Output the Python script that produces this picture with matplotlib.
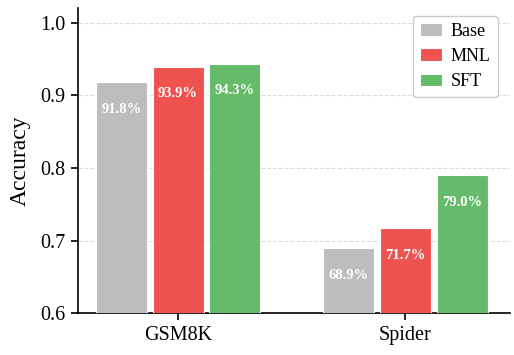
import numpy as np
import matplotlib.pyplot as plt

plt.rcParams['font.family'] = ['Liberation Serif', 'DejaVu Serif']

tasks = ['GSM8K', 'Spider']
methods = ['Base', 'MNL', 'SFT']
base_acc = [0.918, 0.689]
mnl_acc = [0.939, 0.717]
sft_acc = [0.943, 0.790]
colors = ['#bdbdbd', '#ef5350', '#66bb6a']

fig = plt.figure(figsize=(5.14, 3.55), dpi=100)
ax = fig.add_axes([0.152, 0.118, 0.84, 0.859])

x = np.arange(len(tasks))
slot = 0.25
w = 0.225
series = [base_acc, mnl_acc, sft_acc]
for k, (name, vals) in enumerate(zip(methods, series)):
    pos = x + (k - 1) * slot
    ax.bar(pos, vals, w, color=colors[k], edgecolor='white', linewidth=0.8,
           label=name, zorder=3)
    for p, v in zip(pos, vals):
        ax.text(p, v - 0.037, '%.1f%%' % (v * 100), ha='center', va='center',
                color='white', fontsize=10.5, fontweight='bold', zorder=4)

ax.set_ylim(0.6, 1.02)
ax.set_xlim(-0.44, 1.46)
ax.set_yticks([0.6, 0.7, 0.8, 0.9, 1.0])
ax.set_xticks(x)
ax.set_xticklabels(tasks)
ax.tick_params(labelsize=14.5, length=5, width=1.2, pad=4)
ax.set_ylabel('Accuracy', fontsize=17, labelpad=7)
ax.yaxis.grid(True, linestyle='--', color='#dddddd', linewidth=0.8, zorder=0)
ax.set_axisbelow(True)
ax.spines['top'].set_visible(False)
ax.spines['right'].set_visible(False)
ax.spines['left'].set_linewidth(1.2)
ax.spines['bottom'].set_linewidth(1.2)

leg = ax.legend(loc='upper right', bbox_to_anchor=(0.993, 1.005), fontsize=13,
                frameon=True, fancybox=True, edgecolor='#cccccc', framealpha=1,
                handlelength=1.2, handletextpad=0.5, borderpad=0.4,
                labelspacing=0.45)

plt.savefig('out.png', dpi=100)
